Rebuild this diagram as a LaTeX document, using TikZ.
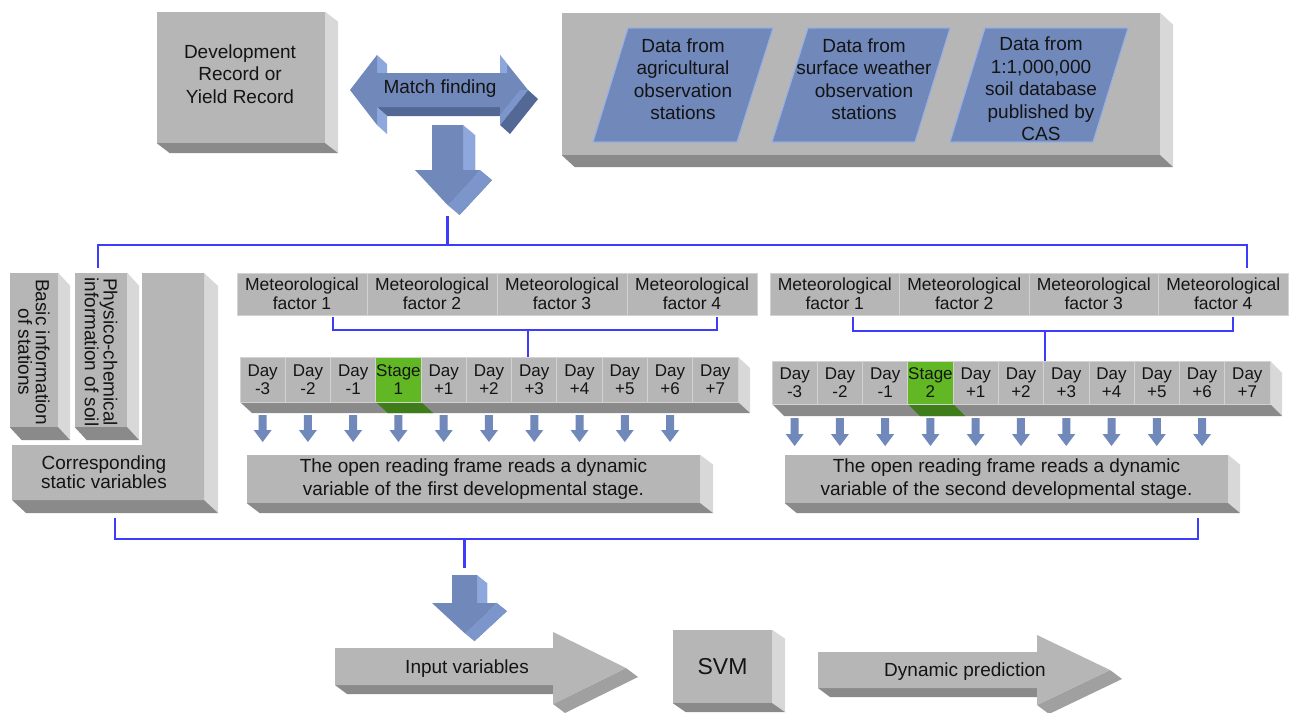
\documentclass[tikz,border=0pt]{standalone}
\usepackage{fontspec}
\setmainfont{Liberation Sans}
\definecolor{gfront}{RGB}{182,182,182}
\definecolor{gside}{RGB}{216,216,216}
\definecolor{gbot}{RGB}{138,138,138}
\definecolor{gmid}{RGB}{160,160,160}
\definecolor{bfront}{RGB}{112,136,186}
\definecolor{bside}{RGB}{142,168,222}
\definecolor{bdark}{RGB}{84,104,150}
\definecolor{bmid}{RGB}{124,150,204}
\definecolor{busc}{RGB}{60,60,250}
\definecolor{gstage}{RGB}{98,184,36}
\definecolor{gstaged}{RGB}{62,125,25}
\definecolor{cellb}{RGB}{210,210,210}
\definecolor{paral}{RGB}{150,175,230}
\definecolor{txt}{RGB}{20,20,20}
\newcommand{\fsA}{\fontsize{19}{22.5}\selectfont}
\newcommand{\fsB}{\fontsize{17.5}{19}\selectfont}
\newcommand{\fsC}{\fontsize{17}{18.5}\selectfont}
\newcommand{\fsD}{\fontsize{19}{19}\selectfont}
\newcommand{\fsF}{\fontsize{19}{17.5}\selectfont}
\newcommand{\fsE}{\fontsize{23}{26}\selectfont}
\newcommand{\threed}[3]{%
  \fill[gside] (#1.north east) -- ([shift={(#2,#3)}]#1.north east) -- ([shift={(#2,#3)}]#1.south east) -- (#1.south east) -- cycle;
  \fill[gbot] (#1.south west) -- (#1.south east) -- ([shift={(#2,#3)}]#1.south east) -- ([shift={(#2,#3)}]#1.south west) -- cycle;}
\begin{document}
\begin{tikzpicture}[x=1pt,y=-1pt,
  box/.style={rectangle,fill=gfront,inner sep=0pt,align=center,text=txt},
  lbl/.style={inner sep=0pt,align=center,text=txt},
  cell/.style={box,draw=cellb,line width=0.8pt},
  bus/.style={draw=busc,line width=2.6pt},
  para/.style={fill=bfront,draw=paral,line width=0.8pt},
  smallarrow/.style={fill=bfront}]
\useasboundingbox[fill=white] (0,0) rectangle (1290,712);

% ---------- Development record box
\node[box,minimum width=168,minimum height=131] (dev) at (241,77.5) {};
\threed{dev}{13}{10}
\node[lbl,font=\fsA] (devt) at (240,74) {Development\\Record or\\Yield Record};

% ---------- Match finding double arrow
\fill[bdark] (377,107) -- (500,107) -- (510,116) -- (387,116) -- cycle;
\fill[bside] (377,55) -- (387,64) -- (387,73) -- (377,73) -- cycle;
\fill[bside] (377,107) -- (387,116) -- (387,134) -- (377,125) -- cycle;
\fill[bdark] (528,90) -- (538,99) -- (510,134) -- (500,125) -- cycle;
\fill[bfront] (350,90) -- (377,55) -- (377,73) -- (500,73) -- (500,55) -- (528,90) -- (500,125) -- (500,107) -- (377,107) -- (377,125) -- cycle;
\fill[bside] (500,55) -- (507,63.8) -- (507,73) -- (500,73) -- cycle;
\fill[bmid] (528,90) -- (500,125) -- (500,115) -- (520,90) -- cycle;
\node[lbl,font=\fsA] (match) at (440,89) {Match finding};

% ---------- first down arrow
\fill[bdark,shift={(12,10)}] (432,125) -- (463,125) -- (463,170) -- (480,170) -- (447.5,205) -- (415,170) -- (432,170) -- cycle;
\fill[bside] (463,125) -- (475,135) -- (475,180) -- (463,170) -- cycle;
\fill[bmid] (480,170) -- (492,180) -- (459.5,215) -- (447.5,205) -- cycle;
\fill[bfront] (432,125) -- (463,125) -- (463,170) -- (480,170) -- (447.5,205) -- (415,170) -- (432,170) -- cycle;
\coordinate (tipA) at (447.5,216);

% ---------- data panel
\node[box,minimum width=598,minimum height=142] (panel) at (861,84) {};
\threed{panel}{13}{12}
\fill[para] (593,142) -- (737,142) -- (773,28) -- (628,28) -- cycle;
\fill[para] (772,142) -- (915,142) -- (950,28) -- (808,28) -- cycle;
\fill[para] (950,142) -- (1093,142) -- (1128,28) -- (985,28) -- cycle;
\draw[paral,line width=0.8pt] (593,142) -- (737,142) -- (773,28) -- (628,28) -- cycle;
\draw[paral,line width=0.8pt] (772,142) -- (915,142) -- (950,28) -- (808,28) -- cycle;
\draw[paral,line width=0.8pt] (950,142) -- (1093,142) -- (1128,28) -- (985,28) -- cycle;
\node[lbl,font=\fsA] (d1) at (683,79) {Data from\\agricultural\\observation\\stations};
\node[lbl,font=\fsA] (d2) at (864,79) {Data from\\surface weather\\observation\\stations};
\node[lbl,font=\fsA] (d3) at (1041,89) {Data from\\1:1,000,000\\soil database\\published by\\CAS};

% ---------- static variables
\node[box,minimum width=48,minimum height=154] (basic) at (34,350) {};
\threed{basic}{12}{13}
\node[lbl,font=\fsF,rotate=-90] (basict) at (34,352) {Basic information\\of stations};
\node[box,minimum width=52,minimum height=154] (phys) at (101,350) {};
\threed{phys}{12}{13}
\node[lbl,font=\fsF,rotate=-90] (physt) at (101,352) {Physico-chemical\\information of soil};
\fill[gside] (204,273) -- (218,286) -- (218,513) -- (204,500) -- cycle;
\fill[gbot] (12,500) -- (204,500) -- (218,513) -- (26,513) -- cycle;
\fill[gfront] (142,273) -- (204,273) -- (204,500) -- (12,500) -- (12,445) -- (142,445) -- cycle;
\node[lbl,font=\fsD] (csv) at (104,472) {Corresponding\\static variables};

% ---------- meteorological factors
\foreach \i in {1,...,4}{
  \node[cell,font=\fsB,minimum width=130,minimum height=42] (mL\i) at ({237+130*(\i-0.5)},294) {Meteorological\\factor \i};
  \node[cell,font=\fsB,minimum width=129.5,minimum height=42] (mR\i) at ({770+129.5*(\i-0.5)},294) {Meteorological\\factor \i};
}

% ---------- day bars
\fill[gside] (738,357) -- (750,368) -- (750,413) -- (738,402) -- cycle;
\fill[gbot] (240,402) -- (738,402) -- (750,413) -- (252,413) -- cycle;
\fill[gstaged] (375.8,402) -- (421.1,402) -- (433.1,413) -- (387.8,413) -- cycle;
\fill[gside] (1270,361) -- (1282,373) -- (1282,416) -- (1270,404) -- cycle;
\fill[gbot] (772,404) -- (1270,404) -- (1282,416) -- (784,416) -- cycle;
\fill[gstaged] (907.8,404) -- (953.1,404) -- (965.1,416) -- (919.8,416) -- cycle;
\foreach \i/\a/\b/\c in {0/Day/-3/gfront,1/Day/-2/gfront,2/Day/-1/gfront,3/Stage/1/gstage,4/Day/+1/gfront,5/Day/+2/gfront,6/Day/+3/gfront,7/Day/+4/gfront,8/Day/+5/gfront,9/Day/+6/gfront,10/Day/+7/gfront}{
  \node[cell,fill=\c,font=\fsC,minimum width=45.27,minimum height=45] (dL\i) at ({240+45.27*(\i+0.5)},379.5) {\a\\\b};
}
\foreach \i/\a/\b/\c in {0/Day/-3/gfront,1/Day/-2/gfront,2/Day/-1/gfront,3/Stage/2/gstage,4/Day/+1/gfront,5/Day/+2/gfront,6/Day/+3/gfront,7/Day/+4/gfront,8/Day/+5/gfront,9/Day/+6/gfront,10/Day/+7/gfront}{
  \node[cell,fill=\c,font=\fsC,minimum width=45.27,minimum height=43] (dR\i) at ({772+45.27*(\i+0.5)},382.5) {\a\\\b};
}

% ---------- small arrows
\foreach \i in {0,...,9}{
  \pgfmathsetmacro{\xa}{240+45.27*(\i+0.5)}
  \pgfmathsetmacro{\xb}{772+45.27*(\i+0.5)}
  \fill[smallarrow] ({\xa-4},415) -- ({\xa+4},415) -- ({\xa+4},430) -- ({\xa+9},430) -- (\xa,442) -- ({\xa-9},430) -- ({\xa-4},430) -- cycle;
  \fill[smallarrow] ({\xb-4},418) -- ({\xb+4},418) -- ({\xb+4},434) -- ({\xb+9},434) -- (\xb,446) -- ({\xb-9},434) -- ({\xb-4},434) -- cycle;
}

% ---------- reading frame boxes
\node[box,minimum width=453,minimum height=48,font=\fsA] (orf1) at (473.5,479) {The open reading frame reads a dynamic\\variable of the first developmental stage.};
\threed{orf1}{13}{10}
\node[box,minimum width=443,minimum height=48,font=\fsA] (orf2) at (1006.5,479) {The open reading frame reads a dynamic\\variable of the second developmental stage.};
\threed{orf2}{12}{10}

% ---------- buses
\coordinate (busTL) at (98,268);
\coordinate (busTR) at (1247,268);
\draw[bus] (tipA) -- (447.5,245);
\draw[bus] (busTL) -- (98,245) -- (1247,245) -- (busTR);
\coordinate (brL1) at (333,317);
\coordinate (brL2) at (717,317);
\draw[bus] (brL1) -- (333,330) -- (717,330) -- (brL2);
\draw[bus] (528,330) -- (dL6.north -| 528,0);
\coordinate (brR1) at (853,317);
\coordinate (brR2) at (1233,317);
\draw[bus] (brR1) -- (853,331) -- (1233,331) -- (brR2);
\draw[bus] (1045,331) -- (dR6.north -| 1045,0);
\coordinate (bbL) at (115,518);
\coordinate (bbR) at (1198,518);
\coordinate (bbM) at (464.5,568);
\draw[bus] (bbL) -- (115,539) -- (1198,539) -- (bbR);
\draw[bus] (464.5,539) -- (bbM);

% ---------- second down arrow
\fill[bdark,shift={(10,8)}] (452,575) -- (477,575) -- (477,603) -- (497,603) -- (464.5,633) -- (432,603) -- (452,603) -- cycle;
\fill[bside] (477,575) -- (487,583) -- (487,611) -- (477,603) -- cycle;
\fill[bmid] (497,603) -- (507,611) -- (474.5,641) -- (464.5,633) -- cycle;
\fill[bfront] (452,575) -- (477,575) -- (477,603) -- (497,603) -- (464.5,633) -- (432,603) -- (452,603) -- cycle;

% ---------- input variables arrow
\fill[gbot] (335,685) -- (553,685) -- (565,694) -- (347,694) -- cycle;
\fill[gmid] (626,668) -- (638,677) -- (565,713) -- (553,704) -- cycle;
\fill[gfront] (335,648) -- (553,648) -- (553,632) -- (626,668) -- (553,704) -- (553,685) -- (335,685) -- cycle;
\node[lbl,font=\fsA] (inp) at (467,668.5) {Input variables};

% ---------- SVM
\node[box,minimum width=99,minimum height=73,font=\fsE] (svm) at (722.5,666.5) {SVM};
\threed{svm}{13}{9}

% ---------- dynamic prediction arrow
\fill[gbot] (818,688) -- (1037,688) -- (1049,697) -- (830,697) -- cycle;
\fill[gmid] (1110,670) -- (1122,679) -- (1049,714) -- (1037,705) -- cycle;
\fill[gfront] (818,652) -- (1037,652) -- (1037,635) -- (1110,670) -- (1037,705) -- (1037,688) -- (818,688) -- cycle;
\node[lbl,font=\fsA] (dyn) at (965,672) {Dynamic prediction};
\end{tikzpicture}
\end{document}
